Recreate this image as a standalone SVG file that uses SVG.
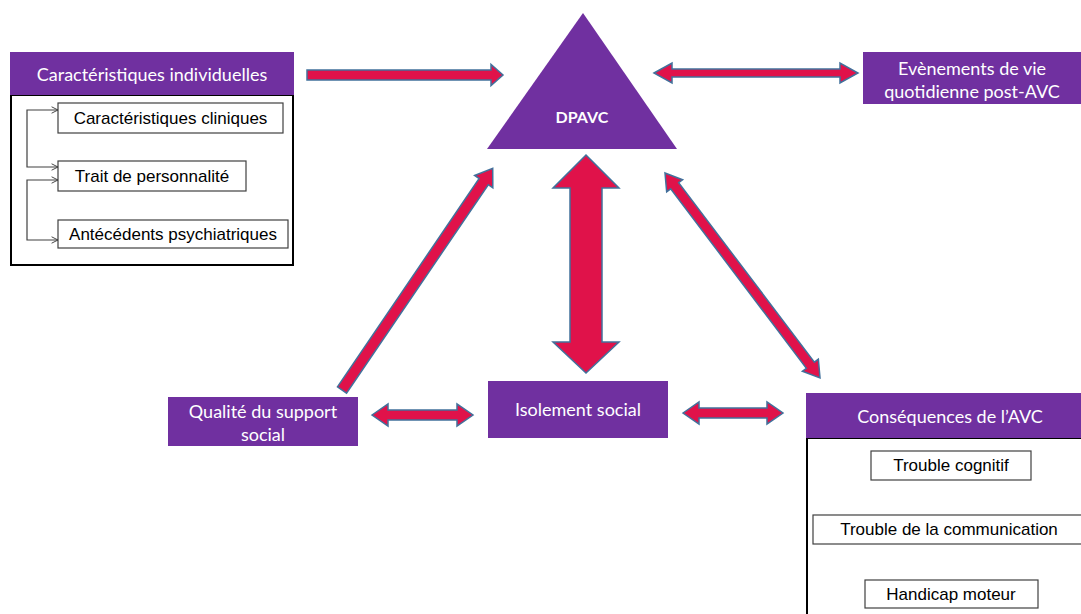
<svg xmlns="http://www.w3.org/2000/svg" width="1081" height="614" viewBox="0 0 1081 614">
<defs>
<style>
.hdr{fill:#7030A0;}
.ht{fill:#ffffff;font-family:Lato,"Open Sans",sans-serif;font-size:18px;text-anchor:middle;dominant-baseline:central;}
.bx{fill:#ffffff;stroke:#404040;stroke-width:1.2;}
.bt{fill:#000000;font-family:"Liberation Sans",Arial,sans-serif;font-size:17px;text-anchor:middle;dominant-baseline:central;}
.frame{fill:#ffffff;stroke:#000000;stroke-width:2;}
.arr{fill:#E0124A;stroke:#41719C;stroke-width:1.5;stroke-linejoin:miter;}
.cn{fill:none;stroke:#404040;stroke-width:1.2;}
</style>
<marker id="ah" viewBox="0 0 10 10" refX="9" refY="5" markerWidth="8" markerHeight="8" markerUnits="userSpaceOnUse" orient="auto-start-reverse">
<path d="M1,1 L9,5 L1,9" fill="none" stroke="#404040" stroke-width="1.2"/>
</marker>
</defs>
<rect width="1081" height="614" fill="#ffffff"/>

<g id="dpavc">
<polygon class="hdr" points="583,13 677,149 487,149"/>
<text x="582" y="116" fill="#ffffff" font-family="Lato,'Open Sans',sans-serif" font-size="16" font-weight="bold" text-anchor="middle" dominant-baseline="central">DPAVC</text>
</g>

<g id="caracteristiques">
<rect class="frame" x="11" y="95" width="282" height="170"/>
<rect class="hdr" x="10" y="52" width="284" height="43"/>
<text class="ht" x="152" y="74">Caractéristiques individuelles</text>
</g>
<g id="cliniques">
<rect class="bx" x="58" y="103" width="225" height="30"/>
<text class="bt" x="170.5" y="118">Caractéristiques cliniques</text>
</g>
<g id="personnalite">
<rect class="bx" x="58" y="161" width="188" height="30"/>
<text class="bt" x="152" y="176">Trait de personnalité</text>
</g>
<g id="antecedents">
<rect class="bx" x="58" y="220" width="230" height="28"/>
<text class="bt" x="173" y="234">Antécédents psychiatriques</text>
</g>

<g id="evenements">
<rect class="hdr" x="863" y="52" width="218" height="52"/>
<text class="ht" x="972" y="68">Evènements de vie</text>
<text class="ht" x="972" y="91">quotidienne post-AVC</text>
</g>

<g id="qualite">
<rect class="hdr" x="168" y="397" width="190" height="49"/>
<text class="ht" x="263" y="411">Qualité du support</text>
<text class="ht" x="263" y="434">social</text>
</g>

<g id="isolement">
<rect class="hdr" x="488" y="381" width="180" height="57"/>
<text class="ht" x="578" y="409">Isolement social</text>
</g>

<g id="consequences">
<rect class="frame" x="807" y="438" width="280" height="180"/>
<rect class="hdr" x="806" y="393" width="275" height="45"/>
<text class="ht" x="950" y="416">Conséquences de l’AVC</text>
</g>
<g id="cognitif">
<rect class="bx" x="871" y="451" width="160" height="29"/>
<text class="bt" x="951" y="465.5">Trouble cognitif</text>
</g>
<g id="communication">
<rect class="bx" x="813" y="515" width="275" height="29"/>
<text class="bt" x="949" y="529.5">Trouble de la communication</text>
</g>
<g id="moteur">
<rect class="bx" x="865" y="580" width="173" height="28"/>
<text class="bt" x="951" y="594">Handicap moteur</text>
</g>

<g id="connectors">
<polygon class="arr" points="307,70 491,70 491,64.5 503,75 491,85.5 491,80 307,80"/>
<polygon class="arr" points="654,73 672,63 672,69 840,69 840,63 858,73 840,83 840,77 672,77 672,83"/>
<polygon class="arr" points="586,155 619,188 602,188 602,342 619,342 586,373 553,342 570,342 570,188 553,188"/>
<polygon class="arr" transform="translate(342,390) rotate(-55.78)" points="0,-5.5 252,-5.5 252,-11 268,0 252,11 252,5.5 0,5.5"/>
<polygon class="arr" transform="translate(665,173) rotate(52.9)" points="0,0 16,-10 16,-5 241,-5 241,-10 257,0 241,10 241,5 16,5 16,10"/>
<polygon class="arr" points="372,415 388,404 388,410 457,410 457,404 473,415 457,426 457,420 388,420 388,426"/>
<polygon class="arr" points="683,413 699,402 699,408 767,408 767,402 783,413 767,424 767,418 699,418 699,424"/>
<path class="cn" d="M58,110 L27,110 L27,167 L58,167" marker-start="url(#ah)" marker-end="url(#ah)"/>
<path class="cn" d="M58,180 L27,180 L27,240 L58,240" marker-start="url(#ah)" marker-end="url(#ah)"/>
</g>
</svg>
